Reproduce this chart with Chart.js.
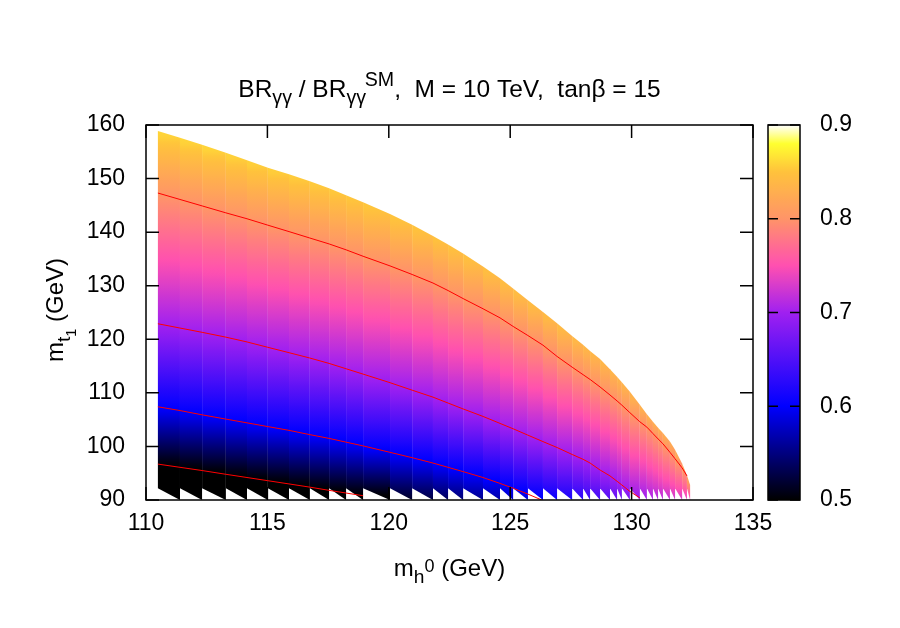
<!DOCTYPE html>
<html>
<head>
<meta charset="utf-8">
<script src="https://cdn.jsdelivr.net/npm/chart.js@4.4.1/dist/chart.umd.min.js"></script>
<style>
  html, body { margin: 0; padding: 0; background: #fff; }
</style>
</head>
<body>
<canvas id="brChart" width="900" height="628"></canvas>
<script>
// pm3d stripes: column edges in m_h0 (GeV)
const mhEdges = [110.49, 111.40, 112.31, 113.29, 114.16, 115.02, 115.89, 116.75, 117.54, 118.24,
  118.94, 120.05, 120.96, 121.82, 122.44, 123.06, 123.88, 124.58, 125.12, 125.73,
  126.35, 126.93, 127.55, 128.00, 128.29, 128.70, 129.11, 129.40, 129.60, 129.93,
  130.34, 130.63, 130.88, 131.09, 131.29, 131.58, 131.79, 132.08, 132.28, 132.41];
// upper edge of the scanned region (m_t1, GeV) at each column edge
const topEdge = [158.9, 157.6, 156.3, 154.8, 153.4, 152.0, 150.8, 149.5, 148.2, 146.9,
  145.6, 143.4, 141.4, 139.3, 137.7, 136.0, 133.6, 131.4, 129.5, 127.3,
  125.1, 123.0, 120.6, 119.0, 117.8, 116.3, 114.4, 113.0, 112.0, 110.2,
  107.8, 106.0, 104.6, 103.5, 102.5, 100.9, 99.4, 96.8, 94.6, 92.8];
// m_t1 where the ratio crosses each contour level (null = below the plot)
const c50 = [96.7, 96.1, 95.5, 94.8, 94.2, 93.6, 93.0, 92.4, 91.8, 91.3,
  90.8, null, null, null, null, null, null, null, null, null,
  null, null, null, null, null, null, null, null, null, null,
  null, null, null, null, null, null, null, null, null, null];
const c60 = [107.4, 106.7, 105.9, 105.1, 104.4, 103.7, 103.0, 102.2, 101.5, 100.8,
  100.1, 98.9, 97.9, 96.9, 96.1, 95.3, 94.2, 93.1, 92.2, 91.1,
  89.9, null, null, null, null, null, null, null, null, null,
  null, null, null, null, null, null, null, null, null, null];
const c70 = [122.9, 122.1, 121.3, 120.4, 119.5, 118.5, 117.5, 116.5, 115.5, 114.5,
  113.5, 111.9, 110.5, 109.2, 108.1, 107.0, 105.6, 104.3, 103.3, 102.1,
  100.9, 99.8, 98.5, 97.6, 96.9, 95.6, 94.5, 93.5, 92.8, 91.6,
  90.4, null, null, null, null, null, null, null, null, null];
const c80 = [147.3, 146.1, 144.9, 143.6, 142.5, 141.3, 140.1, 138.9, 137.8, 136.7,
  135.5, 133.7, 132.1, 130.5, 129.1, 127.6, 125.7, 124.0, 122.4, 120.7,
  118.9, 116.8, 114.8, 113.4, 112.5, 111.1, 109.6, 108.5, 107.7, 106.3,
  104.6, 103.6, 102.4, 101.4, 100.5, 98.9, 97.7, 96.0, 94.5, null];
// ratio along the upper edge and at m_t1 = 90 GeV
const topValue = [0.86, 0.86, 0.86, 0.859, 0.858, 0.857, 0.856, 0.855, 0.854, 0.853,
  0.852, 0.851, 0.85, 0.849, 0.848, 0.847, 0.846, 0.845, 0.844, 0.843,
  0.842, 0.841, 0.84, 0.839, 0.838, 0.837, 0.836, 0.835, 0.834, 0.833,
  0.831, 0.83, 0.828, 0.827, 0.826, 0.824, 0.822, 0.82, 0.817, 0.815];
const bottomValue = [0.43, 0.435, 0.44, 0.45, 0.455, 0.46, 0.465, 0.47, 0.48, 0.485,
  0.495, 0.51, 0.52, 0.53, 0.54, 0.55, 0.56, 0.57, 0.58, 0.59,
  0.60, 0.61, 0.62, 0.63, 0.635, 0.645, 0.655, 0.66, 0.665, 0.675,
  0.695, 0.703, 0.706, 0.71, 0.715, 0.72, 0.725, 0.73, 0.735, 0.74];
const toothTop = 92.2;   // each stripe's lower edge starts here on its left side
const levels = [0.5, 0.6, 0.7, 0.8];
const contours = [c50, c60, c70, c80];

// colour palette (value -> colour)
const paletteValues = [0.5, 0.6, 0.7, 0.75, 0.8, 0.85, 0.88, 0.9];
const paletteColors = ['#000000', '#0000ff', '#a020f0', '#ff50b0', '#ff9468', '#ffc23c', '#ffff30', '#ffffff'];

const FONT = '"Liberation Sans", Arial, Helvetica, sans-serif';
const FS = 23;

function hexRgb(h) {
  return [parseInt(h.slice(1, 3), 16), parseInt(h.slice(3, 5), 16), parseInt(h.slice(5, 7), 16)];
}
const palRgb = paletteColors.map(hexRgb);
function palette(v) {
  v = Math.max(paletteValues[0], Math.min(paletteValues[paletteValues.length - 1], v));
  let k = 0;
  while (k < paletteValues.length - 2 && v > paletteValues[k + 1]) k++;
  const t = (v - paletteValues[k]) / (paletteValues[k + 1] - paletteValues[k]);
  const a = palRgb[k], b = palRgb[k + 1];
  return 'rgb(' + a.map((c, i) => Math.round(c + (b[i] - c) * t)).join(',') + ')';
}

function mean(a, b) {
  if (a == null) return b;
  if (b == null) return a;
  return (a + b) / 2;
}

// value at m_t inside one column, from its nodes
function valueAt(nodes, mt) {
  if (mt <= nodes[0][0]) return nodes[0][1];
  for (let k = 1; k < nodes.length; k++) {
    if (mt <= nodes[k][0]) {
      const [m0, v0] = nodes[k - 1], [m1, v1] = nodes[k];
      return m1 === m0 ? v1 : v0 + (v1 - v0) * (mt - m0) / (m1 - m0);
    }
  }
  return nodes[nodes.length - 1][1];
}

const mapPlugin = {
  id: 'pm3dMap',
  beforeDatasetsDraw(chart) {
    const { ctx, chartArea: a, scales: { x, y } } = chart;
    ctx.save();
    ctx.beginPath();
    ctx.rect(a.left, a.top, a.right - a.left, a.bottom - a.top);
    ctx.clip();
    for (let i = 0; i < mhEdges.length - 1; i++) {
      const nodes = [[90, mean(bottomValue[i], bottomValue[i + 1])]];
      contours.forEach((c, k) => {
        const m = mean(c[i], c[i + 1]);
        if (m != null) nodes.push([m, levels[k]]);
      });
      const topM = Math.max(topEdge[i], topEdge[i + 1]);
      nodes.push([(topEdge[i] + topEdge[i + 1]) / 2, mean(topValue[i], topValue[i + 1])]);
      nodes.sort((p, q) => p[0] - q[0]);

      const xL = x.getPixelForValue(mhEdges[i]);
      const xR = x.getPixelForValue(mhEdges[i + 1]);
      const yB = y.getPixelForValue(90);
      const yT = y.getPixelForValue(topM);
      const g = ctx.createLinearGradient(0, yB, 0, yT);
      const n = 60;
      for (let j = 0; j <= n; j++) {
        const mt = 90 + (topM - 90) * j / n;
        g.addColorStop(j / n, palette(valueAt(nodes, mt)));
      }
      ctx.fillStyle = g;
      ctx.beginPath();
      ctx.moveTo(xL, y.getPixelForValue(toothTop));
      ctx.lineTo(xL, y.getPixelForValue(topEdge[i]));
      ctx.lineTo(xR, y.getPixelForValue(topEdge[i + 1]));
      ctx.lineTo(xR, yB);
      ctx.closePath();
      ctx.fill();
    }
    ctx.restore();
  }
};

function drawRich(ctx, parts, x, y, size) {
  let w = 0;
  parts.forEach(p => {
    ctx.font = (size * (p.s || 1)) + 'px ' + FONT;
    p.w = ctx.measureText(p.t).width;
    w += p.w + (p.dx || 0) * size;
  });
  let cx = x - w / 2;
  ctx.textAlign = 'left';
  ctx.textBaseline = 'alphabetic';
  ctx.fillStyle = '#000';
  parts.forEach(p => {
    ctx.font = (size * (p.s || 1)) + 'px ' + FONT;
    cx += (p.dx || 0) * size;
    ctx.fillText(p.t, cx, y + (p.dy || 0) * size);
    cx += p.w;
  });
}

const framePlugin = {
  id: 'gnuFrame',
  afterDraw(chart) {
    const { ctx, chartArea: a, scales: { x, y, cb } } = chart;
    const tl = 13;
    ctx.save();
    ctx.strokeStyle = '#000';
    ctx.lineWidth = 1.5;
    ctx.strokeRect(a.left, a.top, a.right - a.left, a.bottom - a.top);
    ctx.beginPath();
    x.ticks.forEach(t => {
      const px = x.getPixelForValue(t.value);
      ctx.moveTo(px, a.bottom); ctx.lineTo(px, a.bottom - tl);
      ctx.moveTo(px, a.top); ctx.lineTo(px, a.top + tl);
    });
    y.ticks.forEach(t => {
      const py = y.getPixelForValue(t.value);
      ctx.moveTo(a.left, py); ctx.lineTo(a.left + tl, py);
      ctx.moveTo(a.right, py); ctx.lineTo(a.right - tl, py);
    });
    ctx.stroke();

    // colour box
    const bl = a.right + 15, br = a.right + 47;
    const bt = cb.getPixelForValue(0.9), bb = cb.getPixelForValue(0.5);
    const g = ctx.createLinearGradient(0, bb, 0, bt);
    const n = 80;
    for (let j = 0; j <= n; j++) {
      g.addColorStop(j / n, palette(0.5 + 0.4 * j / n));
    }
    ctx.fillStyle = g;
    ctx.fillRect(bl, bt, br - bl, bb - bt);
    ctx.strokeRect(bl, bt, br - bl, bb - bt);
    ctx.beginPath();
    cb.ticks.forEach(t => {
      const py = cb.getPixelForValue(t.value);
      ctx.moveTo(bl, py); ctx.lineTo(bl + 10, py);
      ctx.moveTo(br, py); ctx.lineTo(br - 10, py);
    });
    ctx.stroke();

    // title and axis labels
    const cx = (a.left + a.right) / 2;
    drawRich(ctx, [
      { t: 'BR' }, { t: 'γγ', s: 0.8, dy: 0.3 }, { t: ' / BR' }, { t: 'γγ', s: 0.8, dy: 0.3 },
      { t: 'SM', s: 0.8, dy: -0.45, dx: -0.05 }, { t: ',  M = 10 TeV,  tanβ = 15' }
    ], cx, 97, 24.5);
    drawRich(ctx, [
      { t: 'm' }, { t: 'h', s: 0.8, dy: 0.3 }, { t: '0', s: 0.75, dy: -0.15 }, { t: ' (GeV)' }
    ], cx, 576, 24);
    ctx.translate(63, 310);
    ctx.rotate(-Math.PI / 2);
    drawRich(ctx, [
      { t: 'm' }, { t: 't', s: 0.8, dy: 0.3 }, { t: '1', s: 0.6, dy: 0.55 }, { t: ' (GeV)' }
    ], 0, 0, 24);
    ctx.restore();
  }
};

const tickFont = { family: 'Liberation Sans', size: FS };

new Chart(document.getElementById('brChart'), {
  type: 'scatter',
  data: {
    datasets: contours.map((c, k) => ({
      label: 'BR ratio = ' + levels[k],
      data: mhEdges.map((m, i) => ({ x: m, y: c[i] })).filter(p => p.y != null),
      showLine: true,
      borderColor: '#ff0000',
      borderWidth: 1,
      pointRadius: 0,
      fill: false,
      tension: 0
    }))
  },
  options: {
    responsive: false,
    animation: false,
    devicePixelRatio: 1,
    layout: { padding: { top: 125, left: 0, right: 0, bottom: 0 } },
    plugins: {
      legend: { display: false },
      tooltip: { enabled: false },
      title: { display: false }
    },
    scales: {
      x: {
        type: 'linear', min: 110, max: 135,
        ticks: { stepSize: 5, font: tickFont, color: '#000', padding: 10, maxRotation: 0 },
        grid: { display: false, drawTicks: false },
        border: { display: false },
        afterFit: s => { s.height = 128; }
      },
      y: {
        type: 'linear', min: 90, max: 160,
        ticks: { stepSize: 10, font: tickFont, color: '#000', padding: 21 },
        grid: { display: false, drawTicks: false },
        border: { display: false },
        afterFit: s => { s.width = 146; }
      },
      cb: {
        type: 'linear', position: 'right', min: 0.5, max: 0.9,
        ticks: { stepSize: 0.1, font: tickFont, color: '#000', padding: 67, callback: v => v.toFixed(1) },
        grid: { display: false, drawTicks: false },
        border: { display: false },
        afterFit: s => { s.width = 147; }
      }
    }
  },
  plugins: [mapPlugin, framePlugin]
});
</script>
</body>
</html>
